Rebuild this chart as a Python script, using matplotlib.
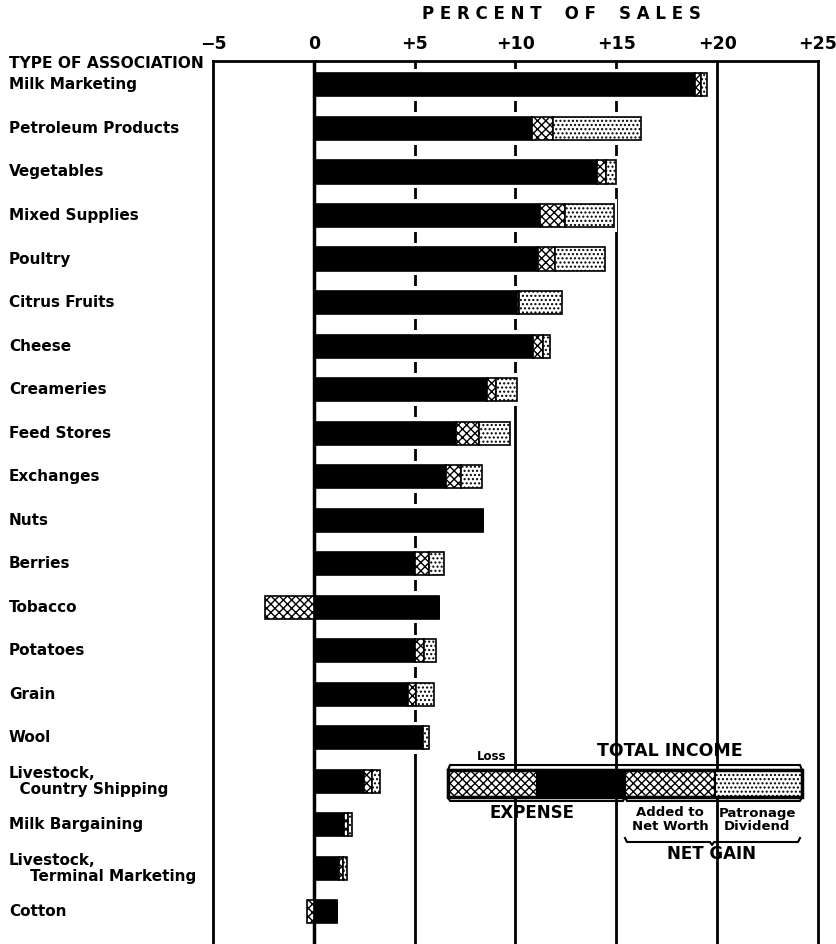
import matplotlib
matplotlib.use('Agg')
import matplotlib.pyplot as plt
from matplotlib.transforms import blended_transform_factory
import numpy as np

categories = ['Milk Marketing', 'Petroleum Products', 'Vegetables', 'Mixed Supplies',
              'Poultry', 'Citrus Fruits', 'Cheese', 'Creameries', 'Feed Stores',
              'Exchanges', 'Nuts', 'Berries', 'Tobacco', 'Potatoes', 'Grain', 'Wool',
              'Livestock,\n  Country Shipping', 'Milk Bargaining',
              'Livestock,\n    Terminal Marketing', 'Cotton']
expense = [18.9, 10.8, 14.05, 11.2, 11.1, 10.05, 10.85, 8.6, 7.05, 6.55,
           8.4, 5.0, 6.2, 5.0, 4.65, 5.4, 2.5, 1.5, 1.25, 1.15]
net_worth = [0.3, 1.05, 0.45, 1.25, 0.85, 0.1, 0.5, 0.45, 1.15, 0.75,
             0.0, 0.7, 0.0, 0.45, 0.4, 0.0, 0.4, 0.2, 0.2, 0.0]
patronage = [0.3, 4.35, 0.5, 2.45, 2.5, 2.15, 0.35, 1.0, 1.55, 1.05,
             0.0, 0.75, 0.0, 0.6, 0.9, 0.3, 0.4, 0.2, 0.2, 0.0]
loss = [0.0, 0.0, 0.0, 0.0, 0.0, 0.0, 0.0, 0.0, 0.0, 0.0,
        0.0, 0.0, 2.4, 0.0, 0.0, 0.0, 0.0, 0.0, 0.0, 0.35]
ticks = [-5, 0, 5, 10, 15, 20, 25]
tick_labels = ['\u22125', '0', '+5', '+10', '+15', '+20', '+25']

plt.rcParams['hatch.linewidth'] = 1.0
plt.rcParams['font.family'] = 'DejaVu Sans'

W, H = 837, 944
fig = plt.figure(figsize=(W / 100, H / 100), dpi=100)
ax = fig.add_axes([213 / W, 0, 605 / W, 883 / H])

y = np.arange(len(categories))
exp = np.array(expense)
nw = np.array(net_worth)
pat = np.array(patronage)
ls = np.array(loss)
total = exp + nw + pat

# grid lines behind, white padding around bars breaks them up
for v in [5, 10, 15, 20]:
    ax.axvline(v, color='black', lw=2, zorder=1)
ax.barh(y, total + ls + 0.25, left=-ls - 0.1, height=0.74, color='white', zorder=2)
ax.axvline(0, color='black', lw=2.5, zorder=2.5)

bh = 0.53
ax.barh(y, exp, height=bh, color='black', edgecolor='black', lw=1.2, zorder=3)
ax.barh(y, nw, left=exp, height=bh, color='white', edgecolor='black', hatch='xxxx', lw=1.2, zorder=3)
ax.barh(y, pat, left=exp + nw, height=bh, color='white', edgecolor='black', hatch='....', lw=1.2, zorder=3)
ax.barh(y, -ls, height=bh, color='white', edgecolor='black', hatch='xxxx', lw=1.2, zorder=3)

ax.set_xlim(-5, 25)
ax.set_ylim(19.74, -0.55)
ax.set_yticks([])
ax.set_xticks(ticks)
ax.set_xticklabels(tick_labels, fontsize=12.5, fontweight='bold')
ax.xaxis.tick_top()
ax.tick_params(axis='x', length=0, pad=6)
for s in ['left', 'right', 'top']:
    ax.spines[s].set_linewidth(2)
ax.spines['bottom'].set_visible(False)

tr = blended_transform_factory(fig.transFigure, ax.transData)
for i, name in enumerate(categories):
    ax.text(9 / W, i, name, transform=tr, ha='left', va='center',
            fontsize=11, fontweight='bold', linespacing=1.12)

fig.text(9 / W, 1 - 63 / H, 'TYPE OF ASSOCIATION', ha='left', va='center',
         fontsize=11.2, fontweight='bold')
fig.text(561 / W, 1 - 14 / H, 'P E R C E N T    O F    S A L E S', ha='center', va='center',
         fontsize=12, fontweight='bold')

# legend key drawn in pixel space
lg = fig.add_axes([0, 0, 1, 1], facecolor='none')
lg.set_xlim(0, W)
lg.set_ylim(H, 0)
lg.axis('off')
seg_edges = [448, 537, 625, 715, 802]
seg_style = [('white', 'xxxx'), ('black', None), ('white', 'xxxx'), ('white', '....')]
for (x0, x1), (fc, hat) in zip(zip(seg_edges[:-1], seg_edges[1:]), seg_style):
    lg.add_patch(plt.Rectangle((x0, 770), x1 - x0, 27, facecolor=fc, edgecolor='black',
                               hatch=hat, lw=1.5))
lg.add_patch(plt.Rectangle((448, 770), 354, 27, fill=False, edgecolor='black', lw=2.5))
lg.plot([448, 450, 800, 802], [770, 765, 765, 770], color='black', lw=1.5)
lg.plot([448, 450, 623, 625, 627, 800, 802], [797, 801, 801, 797, 801, 801, 797], color='black', lw=1.5)
lg.plot([625, 627, 710, 712, 714, 798, 800], [838, 842, 842, 845, 842, 842, 838], color='black', lw=1.5)
lg.text(492, 757, 'Loss', ha='center', va='center', fontsize=8.5, fontweight='bold')
lg.text(670, 751, 'TOTAL INCOME', ha='center', va='center', fontsize=12.5, fontweight='bold')
lg.text(532, 813, 'EXPENSE', ha='center', va='center', fontsize=12, fontweight='bold')
lg.text(670, 820, 'Added to\nNet Worth', ha='center', va='center', fontsize=9.5,
        fontweight='bold', linespacing=1.1)
lg.text(757, 820, 'Patronage\nDividend', ha='center', va='center', fontsize=9.5,
        fontweight='bold', linespacing=1.1)
lg.text(712, 854, 'NET GAIN', ha='center', va='center', fontsize=12, fontweight='bold')

fig.savefig('out.png', dpi=100)
